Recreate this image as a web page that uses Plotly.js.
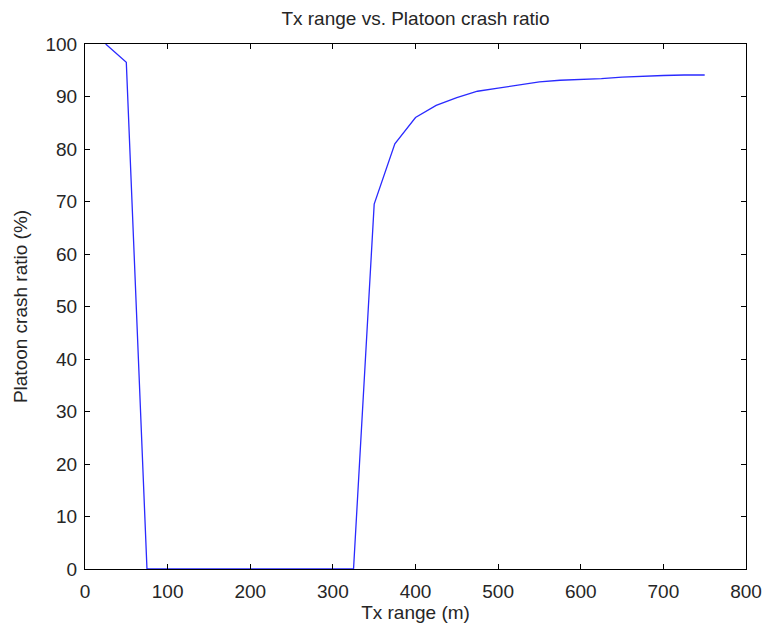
<!DOCTYPE html>
<html><head><meta charset="utf-8">
<script src="https://cdn.plot.ly/plotly-3.0.1.min.js"></script>
<style>html,body{margin:0;padding:0;background:#fff;}</style>
</head><body>
<div id="chart" style="width:769px;height:624px;"></div>
<script>
const txRange = [25, 50, 75, 100, 125, 150, 175, 200, 225, 250, 275, 300, 325, 350, 375, 400, 425, 450, 475, 500, 525, 550, 575, 600, 625, 650, 675, 700, 725, 750];
const crashRatio = [100, 96.5, 0, 0, 0, 0, 0, 0, 0, 0, 0, 0, 0, 69.5, 81, 86, 88.3, 89.8, 91, 91.6, 92.2, 92.8, 93.1, 93.2, 93.4, 93.7, 93.9, 94, 94.1, 94.1];

const font = {family: 'Liberation Sans, Arial, sans-serif', size: 19, color: '#262626'};
const axisCommon = {
  showgrid: false, zeroline: false, showline: true, linecolor: '#000', linewidth: 1,
  mirror: 'ticks', ticks: 'inside', ticklen: 5, tickcolor: '#000',
  tickfont: font
};
Plotly.newPlot('chart', [{
  x: txRange, y: crashRatio, type: 'scatter', mode: 'lines',
  line: {color: '#2a2aff', width: 1.3}
}], {
  width: 769, height: 624,
  margin: {l: 85, r: 23, t: 44, b: 55},
  paper_bgcolor: '#fff', plot_bgcolor: '#fff',
  showlegend: false,
  font: font,
  title: {text: 'Tx range vs. Platoon crash ratio', font: font, xref: 'paper', x: 0.5, xanchor: 'center', yref: 'container', y: 0.97, yanchor: 'middle'},
  xaxis: Object.assign({}, axisCommon, {range: [0, 800], dtick: 100, tick0: 0, ticklabelstandoff: 5,
    title: {text: 'Tx range (m)', font: font, standoff: 2}}),
  yaxis: Object.assign({}, axisCommon, {range: [0, 100], dtick: 10, tick0: 0, ticklabelstandoff: 3,
    title: {text: 'Platoon crash ratio (%)', font: font, standoff: 12}})
}, {displayModeBar: false, staticPlot: true});
</script>
</body></html>
